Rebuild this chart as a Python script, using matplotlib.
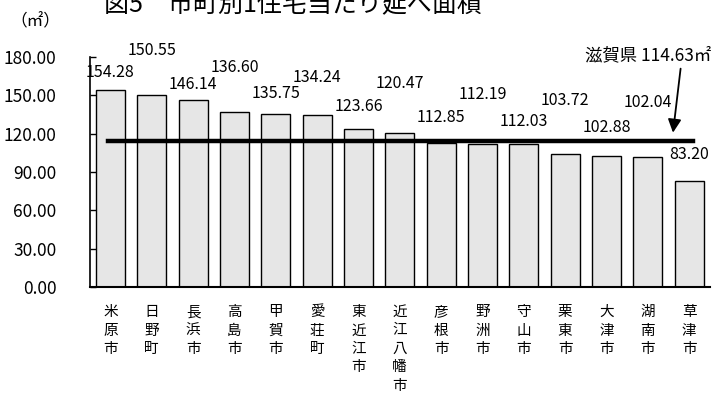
import matplotlib
matplotlib.use("Agg")
import matplotlib.pyplot as plt
import numpy as np

plt.rcParams['font.family'] = ['Noto Sans CJK JP', 'DejaVu Sans']

# data
cities = ["米原市", "日野町", "長浜市", "高島市", "甲賀市", "愛荘町", "東近江市", "近江八幡市",
          "彦根市", "野洲市", "守山市", "栗東市", "大津市", "湖南市", "草津市"]
areas = [154.28, 150.55, 146.14, 136.60, 135.75, 134.24, 123.66, 120.47,
         112.85, 112.19, 112.03, 103.72, 102.88, 102.04, 83.20]
shiga_avg = 114.63
yticks = [0, 30, 60, 90, 120, 150, 180]

# label offsets above bar tops (pixels), staggered like the original
label_off = [17, 44, 16, 45, 20, 38, 22, 50, 25, 49, 22, 54, 28, 54, 26]

fig = plt.figure(figsize=(7.12, 4.01), dpi=100)
ax = fig.add_axes([0.126, 0.284, 0.871, 0.574])

x = np.arange(len(cities))
ax.bar(x, areas, width=0.7, color="#e6e6e6", edgecolor="black", linewidth=1.0, zorder=2)

# prefecture average line
ax.plot([-0.05, 14.1], [shiga_avg, shiga_avg], color="black", linewidth=3.2, zorder=3)

for xi, v, off in zip(x, areas, label_off):
    ax.annotate(f"{v:.2f}", xy=(xi, v), xytext=(0, off), textcoords="offset pixels",
                ha="center", va="center", fontsize=11.5)

ax.set_xlim(-0.5, len(cities) - 0.5)
ax.set_ylim(0, 180)
ax.set_yticks(yticks)
ax.set_yticklabels([f"{t:.2f}" for t in yticks], fontsize=12.5)
ax.set_xticks(x)
ax.set_xticklabels(["\n".join(c) for c in cities], fontsize=10.5, linespacing=1.4, va="top")
ax.tick_params(axis="x", length=0, pad=13)
ax.tick_params(axis="y", direction="in", length=4, pad=24, width=1)

for s in ["top", "right"]:
    ax.spines[s].set_visible(False)
ax.spines["left"].set_linewidth(1.2)
ax.spines["bottom"].set_linewidth(1.5)

# annotation
ax.annotate("", xy=(13.6, shiga_avg + 4), xytext=(13.8, 173),
            arrowprops=dict(arrowstyle="-|>", color="black", lw=1.3, mutation_scale=20))
fig.text(0.999, 1 - 55 / 401, f"滋賀県 {shiga_avg:.2f}㎡", ha="right", va="center", fontsize=12.5)

fig.text(10 / 712, 1 - 22 / 401, "（㎡）", ha="left", va="center", fontsize=12)
fig.text(293 / 712, 1 - 12 / 401, "図5　市町別1住宅当たり延べ面積", ha="center", va="baseline", fontsize=18)

fig.savefig("out.png", dpi=100)
